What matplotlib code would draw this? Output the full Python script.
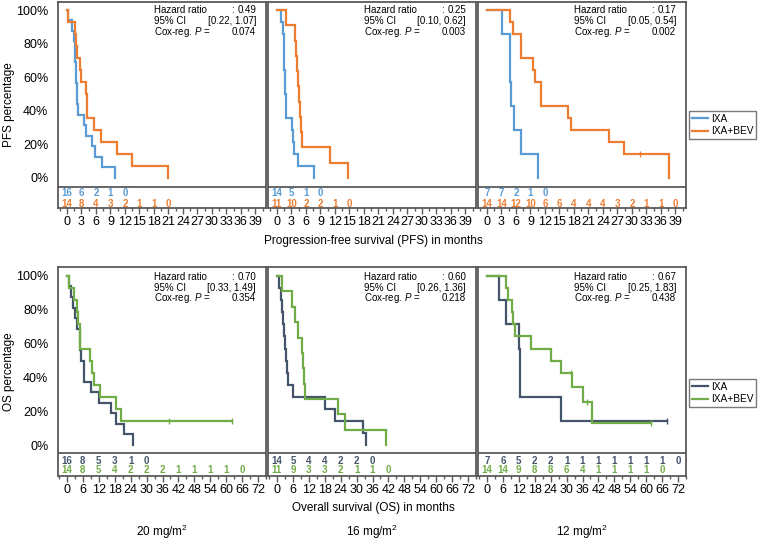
import matplotlib
matplotlib.use("Agg")
import matplotlib.pyplot as plt
from matplotlib.lines import Line2D
from matplotlib.ticker import MultipleLocator

plt.rcParams['font.family'] = ['Liberation Sans', 'DejaVu Sans']
plt.rcParams['mathtext.fontset'] = 'custom'
plt.rcParams['mathtext.rm'] = 'Liberation Sans'
plt.rcParams['mathtext.it'] = 'Liberation Sans:italic'

doses = ["20 mg/m$^2$", "16 mg/m$^2$", "12 mg/m$^2$"]
labels_pfs = ["IXA", "IXA+BEV"]
labels_os = ["IXA", "IXA+BEV"]

# PFS curves (months, % surviving)
pfs20_ixa_t = [0, 0.3, 1.0, 1.5, 1.6, 1.7, 1.8, 1.9, 2.0, 2.1, 2.3, 3.6, 4.0, 5.2, 5.8, 7.3, 9.9]
pfs20_ixa_s = [100, 93.8, 87.5, 81.3, 75.0, 68.8, 62.5, 56.3, 50.0, 43.8, 37.5, 31.3, 25.0, 18.8, 12.5, 6.3, 0]
pfs20_bev_t = [0, 0.3, 1.6, 1.8, 2.0, 2.7, 2.8, 4.0, 4.1, 4.2, 5.5, 7.1, 10.4, 13.4, 21.0]
pfs20_bev_s = [100, 92.9, 85.7, 78.6, 71.4, 64.3, 57.1, 50.0, 42.9, 35.7, 28.6, 21.4, 14.3, 7.1, 0]

pfs16_ixa_t = [0, 0.8, 1.25, 1.35, 1.45, 1.55, 1.65, 1.75, 1.85, 1.95, 3.1, 3.4, 3.45, 4.4, 7.6]
pfs16_ixa_s = [100, 92.9, 85.7, 78.6, 71.4, 64.3, 57.1, 50.0, 42.9, 35.7, 28.6, 21.4, 14.3, 7.1, 0]
pfs16_bev_t = [0, 1.8, 3.7, 3.9, 4.1, 4.3, 4.5, 4.7, 4.9, 5.2, 11.0, 14.7]
pfs16_bev_s = [100, 90.9, 81.8, 72.7, 63.6, 54.5, 45.5, 36.4, 27.3, 18.2, 9.1, 0]

pfs12_ixa_t = [0, 3.1, 4.7, 4.8, 4.9, 5.6, 7.1, 10.5]
pfs12_ixa_s = [100, 85.7, 71.4, 57.1, 42.9, 28.6, 14.3, 0]
pfs12_bev_t = [0, 4.8, 5.4, 7.0, 7.1, 9.6, 10.0, 11.1, 11.2, 16.7, 17.4, 25.2, 28.3, 37.6]
pfs12_bev_s = [100, 92.9, 85.7, 78.6, 71.4, 64.3, 57.1, 50.0, 42.9, 35.7, 28.6, 21.4, 14.3, 0]
pfs12_bev_cens_t = [31.7]
pfs12_bev_cens_s = [14.3]

# OS curves
os20_ixa_t = [0, 0.8, 1.5, 2.2, 3.0, 3.9, 4.8, 5.0, 5.3, 6.3, 6.5, 9.2, 12.1, 16.7, 18.5, 21.6, 25.0]
os20_ixa_s = [100, 93.8, 87.5, 81.3, 75.0, 68.8, 62.5, 56.3, 50.0, 43.8, 37.5, 31.3, 25.0, 18.8, 12.5, 6.3, 0]
os20_bev_t = [0, 0.8, 2.8, 3.9, 4.0, 4.8, 5.0, 8.8, 9.6, 10.1, 12.3, 18.6, 20.2, 62.2]
os20_bev_s = [100, 92.9, 85.7, 78.6, 71.4, 64.3, 57.1, 50.0, 42.9, 35.7, 28.6, 21.4, 14.3, 14.3]
os20_bev_cens_t = [38.5, 62.2]
os20_bev_cens_s = [14.3, 14.3]

os16_ixa_t = [0, 0.9, 1.6, 2.0, 2.3, 2.6, 3.0, 3.4, 3.8, 4.1, 6.1, 18.2, 21.9, 32.6, 33.5]
os16_ixa_s = [100, 92.9, 85.7, 78.6, 71.4, 64.3, 57.1, 50.0, 42.9, 35.7, 28.6, 21.4, 14.3, 7.1, 0]
os16_bev_t = [0, 1.8, 5.6, 6.6, 8.1, 9.4, 9.7, 10.2, 10.5, 22.9, 25.5, 41.0]
os16_bev_s = [100, 90.9, 81.8, 72.7, 63.6, 54.5, 45.5, 36.4, 27.3, 18.2, 9.1, 0]

os12_ixa_t = [0, 4.4, 7.1, 12.0, 12.3, 12.6, 28.0, 68.0]
os12_ixa_s = [100, 85.7, 71.4, 57.1, 42.9, 28.6, 14.3, 14.3]
os12_ixa_cens_t = [68.0]
os12_ixa_cens_s = [14.3]
os12_bev_t = [0, 7.3, 7.9, 9.4, 9.8, 10.7, 16.4, 24.2, 28.0, 31.9, 36.2, 39.7, 61.8]
os12_bev_s = [100, 92.9, 85.7, 78.6, 71.4, 64.3, 57.1, 50.0, 42.9, 34.3, 25.7, 12.9, 12.9]
os12_bev_cens_t = [31.5, 37.8, 61.8]
os12_bev_cens_s = [42.9, 25.7, 12.9]

# numbers at risk
risk_pfs20_ixa = [16, 6, 2, 1, 0]
risk_pfs20_bev = [14, 8, 4, 3, 2, 1, 1, 0]
risk_pfs16_ixa = [14, 5, 1, 0]
risk_pfs16_bev = [11, 10, 2, 2, 1, 0]
risk_pfs12_ixa = [7, 7, 2, 1, 0]
risk_pfs12_bev = [14, 14, 12, 10, 6, 6, 4, 4, 4, 3, 2, 1, 1, 0]
risk_os20_ixa = [16, 8, 5, 3, 1, 0]
risk_os20_bev = [14, 8, 5, 4, 2, 2, 2, 1, 1, 1, 1, 0]
risk_os16_ixa = [14, 5, 4, 4, 2, 2, 0]
risk_os16_bev = [11, 9, 3, 3, 2, 1, 1, 0]
risk_os12_ixa = [7, 6, 5, 2, 2, 1, 1, 1, 1, 1, 1, 1, 0]
risk_os12_bev = [14, 14, 9, 8, 8, 6, 4, 1, 1, 1, 1, 0]

# hazard ratio boxes
hr_pfs = ["0.49", "0.25", "0.17"]
ci_pfs = ["[0.22, 1.07]", "[0.10, 0.62]", "[0.05, 0.54]"]
p_pfs = ["0.074", "0.003", "0.002"]
hr_os = ["0.70", "0.60", "0.67"]
ci_os = ["[0.33, 1.49]", "[0.26, 1.36]", "[0.25, 1.83]"]
p_os = ["0.354", "0.218", "0.438"]

C_BLUE = "#5B9BD5"
C_ORANGE = "#ED7D31"
C_DARK = "#44546A"
C_GREEN = "#70AD47"
C_FRAME = "#595959"

W, H = 760, 540
fig = plt.figure(figsize=(7.6, 5.4), dpi=100)


def px_axes(left, top, width, height):
    return fig.add_axes([left / W, 1 - (top + height) / H, width / W, height / H])


def draw_panel(ax, curves, censors, risks, step, xmax, xlim, ylim, sep, rows, hr, ci, p, ytxt):
    for t, s, c in curves:
        ax.step(t, s, where="post", color=c, lw=1.6, solid_joinstyle="miter")
    for ct, cs, c in censors:
        ax.plot(ct, cs, ls="none", marker="|", ms=5, mew=1, color=c)
    for (vals, c), y in zip(risks, rows):
        for i, n in enumerate(vals):
            ax.text(i * step, y, str(n), ha="center", va="center", color=c,
                    fontsize=7, fontweight="bold")
    ax.axhline(sep, color=C_FRAME, lw=1.3)
    ax.set_xlim(*xlim)
    ax.set_ylim(*ylim)
    ax.xaxis.set_minor_locator(MultipleLocator(step / 2))
    ax.set_xticks(range(0, xmax + 1, step))
    ax.tick_params(axis="x", which="major", direction="out", length=4, width=1,
                   color=C_FRAME, labelsize=9, pad=2)
    ax.tick_params(axis="x", which="minor", direction="out", length=2, width=1,
                   color=C_FRAME)
    ax.set_yticks([0, 20, 40, 60, 80, 100])
    ax.set_yticklabels([f"{v}%" for v in range(0, 101, 20)])
    ax.tick_params(axis="y", length=0, labelsize=9, pad=7)
    for sp in ax.spines.values():
        sp.set_color(C_FRAME)
        sp.set_linewidth(1.3)
    # hazard ratio text
    kw = dict(transform=ax.transAxes, fontsize=7, va="center")
    ax.text(0.46, ytxt[0], "Hazard ratio", **kw)
    ax.text(0.837, ytxt[0], ":", ha="center", **kw)
    ax.text(0.952, ytxt[0], hr, ha="right", **kw)
    ax.text(0.46, ytxt[1], "95% CI", **kw)
    ax.text(0.952, ytxt[1], ci, ha="right", **kw)
    ax.text(0.46, ytxt[2], "Cox-reg. $P$ =", **kw)
    ax.text(0.952, ytxt[2], p, ha="right", **kw)


lefts = [58, 268, 478]

pfs_curves = [
    [(pfs20_ixa_t, pfs20_ixa_s, C_BLUE), (pfs20_bev_t, pfs20_bev_s, C_ORANGE)],
    [(pfs16_ixa_t, pfs16_ixa_s, C_BLUE), (pfs16_bev_t, pfs16_bev_s, C_ORANGE)],
    [(pfs12_ixa_t, pfs12_ixa_s, C_BLUE), (pfs12_bev_t, pfs12_bev_s, C_ORANGE)],
]
pfs_cens = [[], [], [(pfs12_bev_cens_t, pfs12_bev_cens_s, C_ORANGE)]]
pfs_risk = [
    [(risk_pfs20_ixa, C_BLUE), (risk_pfs20_bev, C_ORANGE)],
    [(risk_pfs16_ixa, C_BLUE), (risk_pfs16_bev, C_ORANGE)],
    [(risk_pfs12_ixa, C_BLUE), (risk_pfs12_bev, C_ORANGE)],
]
os_curves = [
    [(os20_ixa_t, os20_ixa_s, C_DARK), (os20_bev_t, os20_bev_s, C_GREEN)],
    [(os16_ixa_t, os16_ixa_s, C_DARK), (os16_bev_t, os16_bev_s, C_GREEN)],
    [(os12_ixa_t, os12_ixa_s, C_DARK), (os12_bev_t, os12_bev_s, C_GREEN)],
]
os_cens = [
    [(os20_bev_cens_t, os20_bev_cens_s, C_GREEN)],
    [],
    [(os12_ixa_cens_t, os12_ixa_cens_s, C_DARK), (os12_bev_cens_t, os12_bev_cens_s, C_GREEN)],
]
os_risk = [
    [(risk_os20_ixa, C_DARK), (risk_os20_bev, C_GREEN)],
    [(risk_os16_ixa, C_DARK), (risk_os16_bev, C_GREEN)],
    [(risk_os12_ixa, C_DARK), (risk_os12_bev, C_GREEN)],
]

for i, left in enumerate(lefts):
    # PFS row
    ax = px_axes(left, 2, 208, 206)
    draw_panel(ax, pfs_curves[i], pfs_cens[i], pfs_risk[i], 3, 39, (-1.86, 41.2),
               (-17.9, 104.8), -5.4, (-9.1, -15.5), hr_pfs[i], ci_pfs[i], p_pfs[i],
               (0.961, 0.908, 0.854))
    if i == 0:
        ax.set_ylabel("PFS percentage", fontsize=8.5, labelpad=1)
    else:
        ax.set_yticklabels([])

    # OS row
    ax = px_axes(left, 267, 208, 209)
    draw_panel(ax, os_curves[i], os_cens[i], os_risk[i], 6, 72, (-3.39, 75.0),
               (-18.3, 105.3), -4.7, (-9.3, -14.8), hr_os[i], ci_os[i], p_os[i],
               (0.954, 0.901, 0.850))
    if i == 0:
        ax.set_ylabel("OS percentage", fontsize=8.5, labelpad=1)
    else:
        ax.set_yticklabels([])

    fig.text((left + 104) / W, 1 - 532 / H, doses[i], ha="center", va="center", fontsize=8.5)

fig.text(373 / W, 1 - 241 / H, "Progression-free survival (PFS) in months",
         ha="center", va="center", fontsize=8.5)
fig.text(373 / W, 1 - 508 / H, "Overall survival (OS) in months",
         ha="center", va="center", fontsize=8.5)

# legends
for top, cols, labs in [(111, (C_BLUE, C_ORANGE), labels_pfs),
                        (379, (C_DARK, C_GREEN), labels_os)]:
    handles = [Line2D([], [], color=c, lw=1.6) for c in cols]
    leg = fig.legend(handles, labs, loc="upper left", bbox_to_anchor=(689 / W, 1 - top / H),
                     fontsize=7.3, frameon=True, fancybox=False, edgecolor=C_FRAME,
                     borderpad=0.25, handlelength=1.6, handletextpad=0.3,
                     labelspacing=0.25, borderaxespad=0)
    leg.get_frame().set_linewidth(1)

fig.savefig("out.png", dpi=100)
